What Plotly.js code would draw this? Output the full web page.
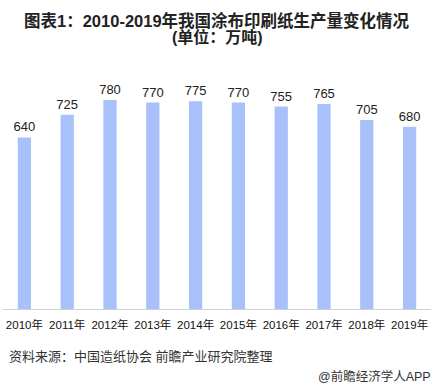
<!DOCTYPE html>
<html>
<head>
<meta charset="utf-8">
<script src="https://cdn.plot.ly/plotly-3.0.1.min.js"></script>
<style>html,body{margin:0;padding:0;background:#fff;}#chart{width:437px;height:389px;}</style>
</head>
<body>
<div id="chart"></div>
<script>
const years = ["2010年","2011年","2012年","2013年","2014年","2015年","2016年","2017年","2018年","2019年"];
const production = [640, 725, 780, 770, 775, 770, 755, 765, 705, 680];
const titleLine1 = "<b>图表1：2010-2019年我国涂布印刷纸生产量变化情况</b>";
const titleLine2 = "<b>(单位：万吨)</b>";
const sourceText = "资料来源：中国造纸协会 前瞻产业研究院整理";
const brandText = "@前瞻经济学人APP";

const FONT = "'Liberation Sans', Arial, 'Noto Sans CJK SC', sans-serif";

Plotly.newPlot("chart", [{
  type: "bar",
  x: years,
  y: production,
  text: production.map(String),
  textposition: "outside",
  constraintext: "none",
  cliponaxis: false,
  textfont: {family: FONT, size: 13, color: "#222"},
  marker: {color: "#a9c1fa", line: {width: 0}},
  hoverinfo: "none"
}], {
  width: 437, height: 389,
  margin: {l: 3, r: 6, t: 90, b: 80},
  paper_bgcolor: "#fff", plot_bgcolor: "#fff",
  bargap: 0.69,
  showlegend: false,
  xaxis: {type: "category", showgrid: false, showline: true, linecolor: "#d0d0d0", linewidth: 1,
          ticks: "", ticklabelstandoff: 5, tickfont: {family: FONT, size: 11.5, color: "#111"}, fixedrange: true},
  yaxis: {range: [0, 817], visible: false, showgrid: false, zeroline: false, fixedrange: true},
  annotations: [
    {text: titleLine1, xref: "paper", yref: "paper", x: 0.5, y: 1.3196, xanchor: "center", yanchor: "middle",
     showarrow: false, font: {family: FONT, size: 16.5, color: "#222"}},
    {text: titleLine2, xref: "paper", yref: "paper", x: 0.5, y: 1.242, xanchor: "center", yanchor: "middle",
     showarrow: false, font: {family: FONT, size: 16, color: "#222"}},
    {text: sourceText, xref: "paper", yref: "paper", x: 0, xshift: 4, y: -0.219, xanchor: "left", yanchor: "middle",
     showarrow: false, font: {family: FONT, size: 13, color: "#333"}},
    {text: brandText, xref: "paper", yref: "paper", x: 1, xshift: 2, y: -0.31, xanchor: "right", yanchor: "middle",
     showarrow: false, font: {family: FONT, size: 12.5, color: "#333"}}
  ]
}, {displayModeBar: false, staticPlot: true});
</script>
</body>
</html>
